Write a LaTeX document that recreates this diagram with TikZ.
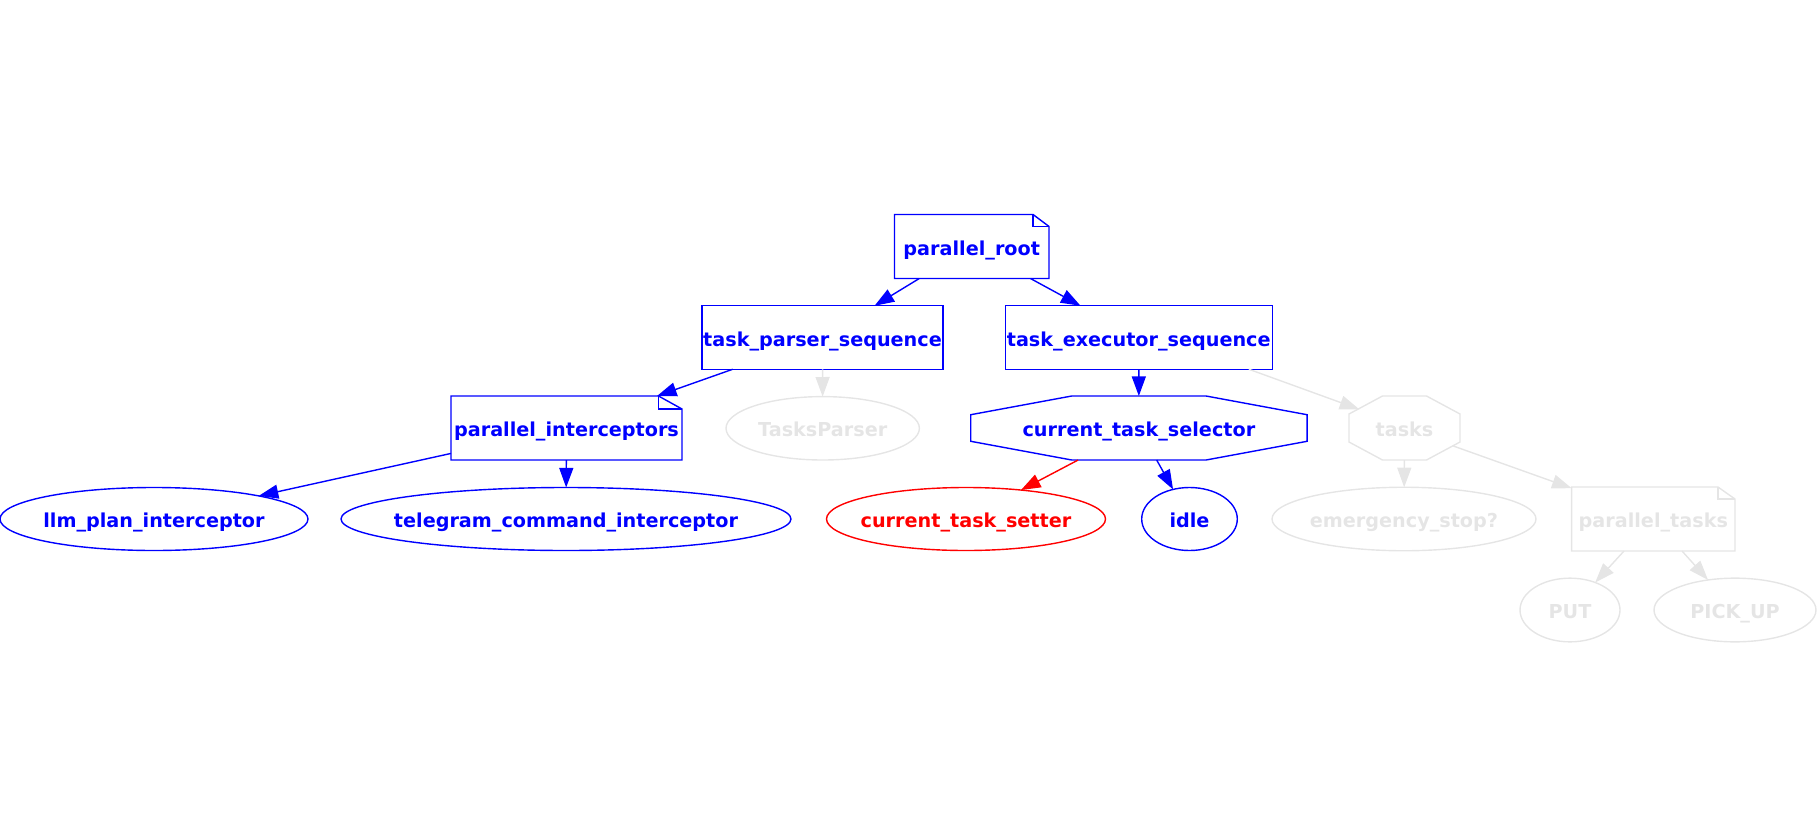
\documentclass[tikz,border=0pt]{standalone}
\usepackage{fontspec}
\setmainfont{DejaVu Sans}
\usetikzlibrary{arrows.meta,shapes.geometric}
\definecolor{gv}{RGB}{229,229,229}
\definecolor{bl}{RGB}{0,0,255}
\definecolor{rd}{RGB}{255,0,0}
\newcommand\notefold[4]{%
  \draw[#2, line width=0.7pt, line join=miter] (#1.south west) -- (#1.north west) -- ([xshift=-#3]#1.north east) -- ([yshift=-#4]#1.north east) -- (#1.south east) -- cycle;
  \draw[#2, line width=0.7pt] ([xshift=-#3]#1.north east) -- ([xshift=-#3,yshift=-#4]#1.north east) -- ([yshift=-#4]#1.north east);}
\newcommand\octa[4]{%
  \draw[#2, line width=0.7pt] ([xshift=#3]#1.north west) -- ([xshift=-#3]#1.north east) -- ([yshift=-#4]#1.north east) -- ([yshift=#4]#1.south east) -- ([xshift=-#3]#1.south east) -- ([xshift=#3]#1.south west) -- ([yshift=#4]#1.south west) -- ([yshift=-#4]#1.north west) -- cycle;}
\begin{document}
\begin{tikzpicture}[x=0.5pt,y=-0.5pt,
  bnode/.style={inner sep=0pt, outer sep=0pt, line width=0.7pt},
  lbl/.style={inner sep=0pt, font=\bfseries\fontsize{9.6pt}{11pt}\selectfont, text height=8.5pt, text depth=0pt},
  tb/.style={label={[lbl,text=bl]center:{#1}}},
  tr/.style={label={[lbl,text=rd]center:{#1}}},
  tg/.style={label={[lbl,text=gv]center:{#1}}},
  ell/.style={bnode, ellipse, draw},
  hid/.style={bnode, rectangle},
  boxn/.style={bnode, rectangle, draw},
  edge/.style={line width=0.7pt, -{Triangle[length=9.8pt,width=7pt]}}
]
\useasboundingbox (0,0) rectangle (1817,825);

% nodes
\node[hid, minimum width=77.25pt, minimum height=32pt, tb=parallel\_root] (pr) at (971.75,246.5) {};
\node[boxn, draw=bl, minimum width=120.5pt, minimum height=31.75pt, tb=task\_parser\_sequence] (tps) at (822.5,337.5) {};
\node[boxn, draw=bl, minimum width=133.5pt, minimum height=31.75pt, tb=task\_executor\_sequence] (tes) at (1138.75,337.5) {};
\node[hid, minimum width=115.5pt, minimum height=32pt, tb=parallel\_interceptors] (pi) at (566.5,428) {};
\node[ell, draw=gv, minimum width=96.7pt, minimum height=31.7pt, tg=TasksParser] (tp) at (822.7,428.3) {};
\node[hid, minimum width=168.15pt, minimum height=32pt, tb=current\_task\_selector] (cts) at (1138.9,428) {};
\node[hid, minimum width=55.5pt, minimum height=32pt, tg=tasks] (tasks) at (1404.5,428) {};
\node[ell, draw=bl, minimum width=154pt, minimum height=31.5pt, tb=llm\_plan\_interceptor] (llm) at (154,519) {};
\node[ell, draw=bl, minimum width=225pt, minimum height=31.5pt, tb=telegram\_command\_interceptor] (tci) at (566,519) {};
\node[ell, draw=rd, minimum width=139.5pt, minimum height=31.5pt, tr=current\_task\_setter] (cset) at (966,519) {};
\node[ell, draw=bl, minimum width=47.8pt, minimum height=31.5pt, tb=idle] (idle) at (1189.5,519) {};
\node[ell, draw=gv, minimum width=132pt, minimum height=31.75pt, tg=emergency\_stop?] (es) at (1404,519) {};
\node[hid, minimum width=81.65pt, minimum height=32pt, tg=parallel\_tasks] (pt) at (1653.3,519) {};
\node[ell, draw=gv, minimum width=50pt, minimum height=31.85pt, tg=PUT] (put) at (1570,610) {};
\node[ell, draw=gv, minimum width=81pt, minimum height=31.85pt, tg=PICK\_UP] (pick) at (1735,610) {};

% custom outlines
\notefold{pr}{bl}{8pt}{6pt}
\notefold{pi}{bl}{11.75pt}{6.5pt}
\notefold{pt}{gv}{8.5pt}{6pt}
\octa{cts}{bl}{50.5pt}{9.35pt}
\octa{tasks}{gv}{16.75pt}{9pt}

% edges
\draw[edge, bl] (pr) -- (tps);
\draw[edge, bl] (pr) -- (tes);
\draw[edge, bl] (tps) -- (pi);
\draw[edge, gv] (tps) -- (tp);
\draw[edge, bl] (pi) -- (llm);
\draw[edge, bl] (pi) -- (tci);
\draw[edge, bl] (tes) -- (cts);
\draw[edge, gv] ([xshift=-11.7pt]tes.south east) -- ([xshift=5.15pt,yshift=9.35pt]tasks.west);
\draw[edge, rd] (cts) -- (cset);
\draw[edge, bl] (cts) -- (idle);
\draw[edge, gv] (tasks) -- (es);
\draw[edge, gv] ([xshift=-3.35pt,yshift=-9pt]tasks.east) -- ([yshift=-0.6pt]pt.north west);
\draw[edge, gv] (pt) -- (put);
\draw[edge, gv] (pt) -- (pick);
\end{tikzpicture}
\end{document}
